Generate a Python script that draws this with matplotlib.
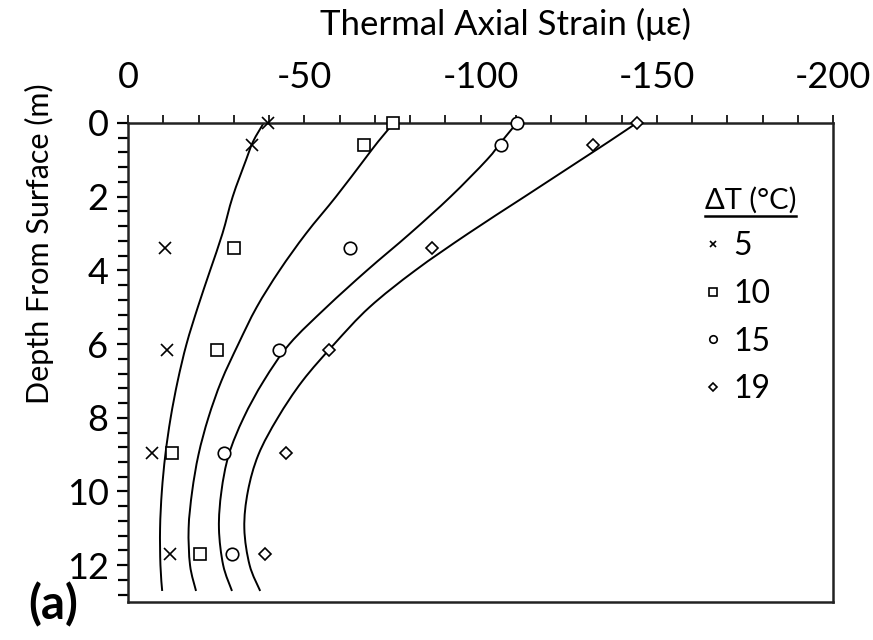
import matplotlib
matplotlib.use("Agg")
import matplotlib.pyplot as plt
import numpy as np
from matplotlib.ticker import MultipleLocator
from matplotlib.lines import Line2D
from matplotlib.path import Path
from matplotlib.patches import PathPatch

plt.rcParams['font.family'] = ['Lato', 'DejaVu Sans']
plt.rcParams['axes.unicode_minus'] = False

# Measured thermal axial strain (microstrain) at gauge depths
gauge_depth = [0.0, 0.6, 3.4, 6.15, 8.95, 11.7]
meas_dT5 = [-39.8, -35.1, -10.5, -11.0, -6.7, -11.9]
meas_dT10 = [-75.2, -66.9, -30.2, -25.2, -12.4, -20.5]
meas_dT15 = [-110.4, -105.7, -63.1, -42.9, -27.1, -29.6]
meas_dT19 = [-144.5, -131.8, -86.3, -56.9, -44.8, -38.9]

# Predicted strain profiles
model_depth = [0.0, 0.5, 1, 2, 3, 4, 5, 6, 7, 8, 9, 10, 11, 12, 12.7]
model_dT5 = [-38.5, -35.5, -33.5, -29.7, -26.8, -23.3, -19.8, -16.6, -14.1, -12.1, -10.6, -9.6, -9.1, -9.2, -9.7]
model_dT10 = [-75.4, -71.0, -67.0, -59.0, -50.5, -43.0, -36.5, -31.3, -26.5, -22.8, -20.0, -18.2, -17.2, -17.6, -19.3]
model_dT15 = [-110.3, -106.0, -101.8, -91.5, -80.0, -67.8, -56.3, -45.8, -38.5, -32.8, -28.6, -26.5, -25.8, -27.0, -29.5]
model_dT19 = [-144.3, -136.5, -128.5, -112.5, -96.5, -81.5, -68.5, -58.5, -49.5, -42.5, -37.0, -34.0, -33.0, -34.5, -37.5]

dT_labels = ['5', '10', '15', '19']
markers = ['x', 's', 'o', 'D']
msizes = [8, 9, 9, 6.5]


def smooth_path(xs, ys):
    """Cubic Bezier path passing through every point (Catmull-Rom tangents)."""
    p = np.column_stack([xs, ys]).astype(float)
    n = len(p)
    verts = [p[0]]
    codes = [Path.MOVETO]
    for i in range(n - 1):
        p0 = p[i - 1] if i > 0 else p[i]
        p3 = p[i + 2] if i + 2 < n else p[i + 1]
        c1 = p[i] + (p[i + 1] - p0) / 6.0
        c2 = p[i + 1] - (p3 - p[i]) / 6.0
        verts += [c1, c2, p[i + 1]]
        codes += [Path.CURVE4] * 3
    return Path(verts, codes)


fig = plt.figure(figsize=(8.73, 6.40), dpi=100)
ax = fig.add_axes([128 / 873, 1 - 602 / 640, 705 / 873, 479 / 640])

measured = [meas_dT5, meas_dT10, meas_dT15, meas_dT19]
models = [model_dT5, model_dT10, model_dT15, model_dT19]

for mod in models:
    ax.add_patch(PathPatch(smooth_path(mod, model_depth), fill=False,
                           edgecolor='black', lw=1.4, zorder=2))

handles = []
for meas, mk, ms, lab in zip(measured, markers, msizes, dT_labels):
    ax.plot(meas, gauge_depth, linestyle='none', marker=mk, ms=ms,
            mfc='white', mec='black', mew=1.2, color='black', zorder=3,
            clip_on=False)
    handles.append(Line2D([], [], linestyle='none', marker=mk, ms=ms * 0.6,
                          mfc='white', mec='black', mew=1.2, color='black',
                          label=lab))

ax.set_xlim(0, -200)
ax.set_ylim(13, 0)

ax.xaxis.set_ticks_position('top')
ax.xaxis.set_label_position('top')
ax.xaxis.set_major_locator(MultipleLocator(50))
ax.xaxis.set_minor_locator(MultipleLocator(10))
ax.yaxis.set_major_locator(MultipleLocator(2))
ax.yaxis.set_minor_locator(MultipleLocator(0.4))

ax.tick_params(axis='x', which='both', direction='out', top=True, bottom=False,
               length=6, width=1.2, labelsize=26, pad=15, colors='black')
ax.tick_params(axis='y', which='both', direction='out', left=True, right=False,
               length=8, width=1.6, labelsize=26, pad=6)
ax.tick_params(axis='y', which='minor', length=7)

for sp in ax.spines.values():
    sp.set_linewidth(1.8)
    sp.set_color('#222222')

ax.set_xlabel('Thermal Axial Strain (\u03bc\u03b5)', fontsize=25)
ax.xaxis.set_label_coords(0.535, 1.205)
ax.xaxis.label.set_va('center')
ax.set_ylabel('Depth From Surface (m)', fontsize=22)
ax.yaxis.set_label_coords(-0.105, 0.747)

leg = ax.legend(handles=handles, title='\u0394T (\u00b0C)', frameon=False,
                loc='upper left', bbox_to_anchor=(0.800, 0.893),
                fontsize=23, title_fontsize=21, handlelength=0.5,
                handletextpad=0.4, labelspacing=0.55, borderaxespad=0)
leg._legend_box.align = 'left'

fig.canvas.draw()
tb = leg.get_title().get_window_extent(fig.canvas.get_renderer())
inv = fig.transFigure.inverted()
(x0, y0), (x1, _) = inv.transform([(tb.x0, tb.y0), (tb.x1, tb.y0)])
fig.add_artist(Line2D([x0, x1], [y0 - 0.004, y0 - 0.004], color='black',
                      lw=1.8, transform=fig.transFigure))

fig.text(28 / 873, 1 - 605 / 640, '(a)', fontsize=34, fontweight='bold',
         va='center', ha='left')

fig.savefig('out.png', dpi=100, facecolor='white')
